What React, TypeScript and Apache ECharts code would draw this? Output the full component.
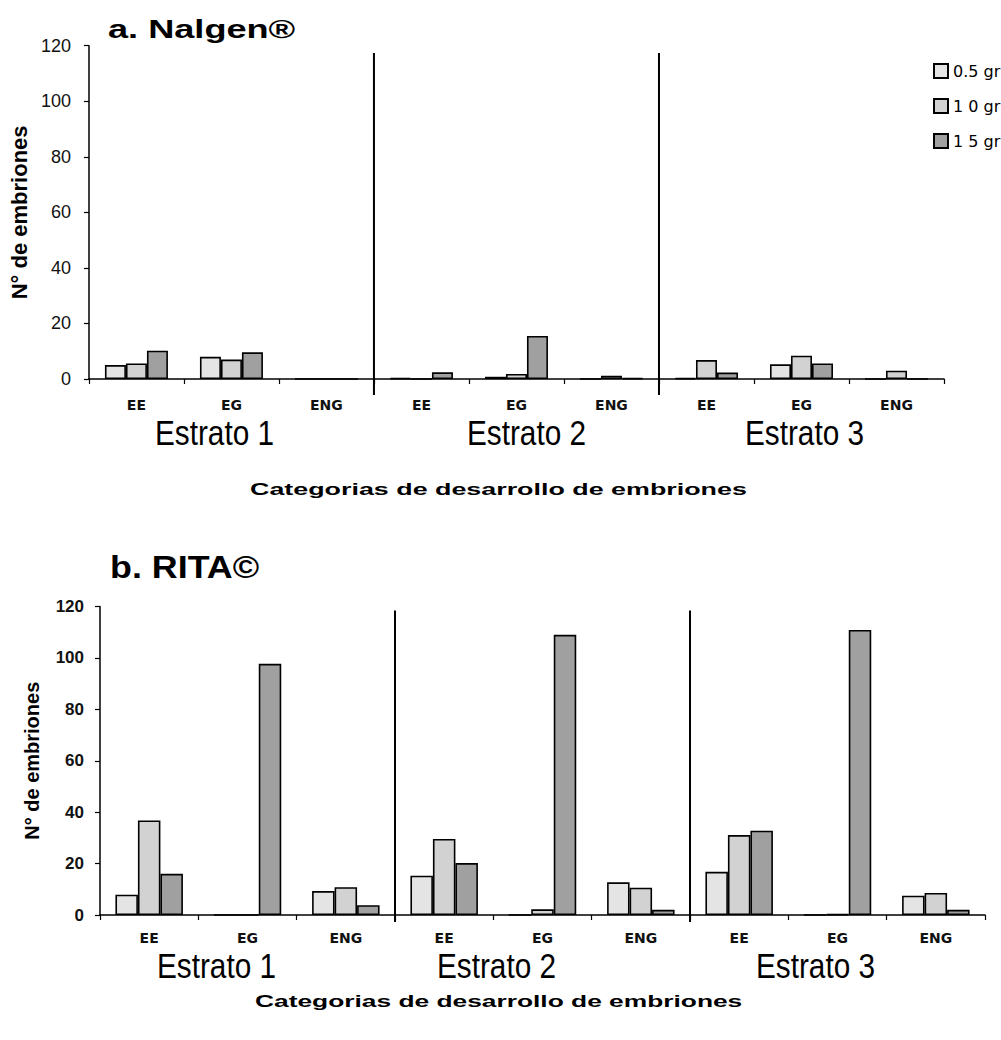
import React, { useEffect, useRef } from "react";
import * as echarts from "echarts";

// ---- data ----
const categories = ["EE", "EG", "ENG", "EE", "EG", "ENG", "EE", "EG", "ENG"];
const strata = ["Estrato 1", "Estrato 2", "Estrato 3"];
const seriesNames = ["0.5 gr", "1 0 gr", "1 5 gr"];
const titleA = "a. Nalgen®";
const titleB = "b. RITA©";
const xAxisTitle = "Categorias de desarrollo de embriones";
const yAxisTitle = "N° de embriones";

// a. Nalgen®
const nalgen05 = [5, 8, 0, 0.3, 0.8, 0, 0.3, 5.3, 0];
const nalgen10 = [5.6, 7, 0, 0, 1.8, 1.2, 6.8, 8.4, 3];
const nalgen15 = [10.2, 9.6, 0, 2.4, 15.5, 0.3, 2.3, 5.6, 0];

// b. RITA©
const rita05 = [7.9, 0, 9.3, 15.3, 0, 12.7, 16.8, 0, 7.5];
const rita10 = [36.8, 0, 10.8, 29.6, 2.2, 10.6, 31.1, 0.3, 8.6];
const rita15 = [16, 97.7, 3.8, 20.2, 109, 2, 32.8, 110.9, 2];

// stratum boundaries (in category units)
const dividerPositions = [3, 6];

// ---- style ----
const FILLS = ["#e4e4e4", "#d2d2d2", "#a0a0a0"];
const FONT = "'Liberation Sans', Arial, sans-serif";

export default function App() {
  const ref = useRef<HTMLDivElement>(null);

  useEffect(() => {
    document.body.style.margin = "0";
    if (!ref.current) return;
    const chart = echarts.init(ref.current, null, { renderer: "svg" });

    const barSeries = (
      name: string,
      data: number[],
      fill: string,
      xAxisIndex: number,
      yAxisIndex: number,
      barWidth: number
    ) => ({
      name,
      type: "bar",
      data,
      xAxisIndex,
      yAxisIndex,
      barWidth,
      barGap: "0%",
      itemStyle: { color: fill, borderColor: "#000", borderWidth: 1.6 },
    });

    const dividerSeries = (
      xAxisIndex: number,
      yAxisIndex: number,
      yTop: number,
      yBottom: number
    ) => ({
      type: "custom",
      name: "divider",
      xAxisIndex,
      yAxisIndex,
      clip: false,
      silent: true,
      data: dividerPositions.map((v) => [v, 0]),
      encode: { x: 0, y: 1 },
      renderItem: (params: any, api: any) => {
        const p1 = api.coord([api.value(0), yTop]);
        const p2 = api.coord([api.value(0), yBottom]);
        return {
          type: "line",
          shape: { x1: p1[0], y1: p1[1], x2: p2[0], y2: p2[1] },
          style: { stroke: "#000", lineWidth: 2 },
        };
      },
    });

    const catAxis = (gridIndex: number, margin: number) => ({
      type: "category",
      gridIndex,
      data: categories,
      boundaryGap: true,
      axisLine: { lineStyle: { color: "#000", width: 1.5 } },
      axisTick: { show: true, length: 5, lineStyle: { color: "#000", width: 1.2 } },
      axisLabel: {
        color: "#111",
        fontFamily: "'DejaVu Sans', sans-serif",
        fontWeight: "bold",
        fontSize: 14,
        margin,
        interval: 0,
      },
    });

    const hiddenValueX = (gridIndex: number) => ({
      type: "value",
      gridIndex,
      min: 0,
      max: 9,
      show: false,
    });

    const valAxis = (
      gridIndex: number,
      fontSize: number,
      fontWeight: string,
      margin: number,
      nameGap: number,
      nameSize: number
    ) => ({
      type: "value",
      gridIndex,
      min: 0,
      max: 120,
      interval: 20,
      name: yAxisTitle,
      nameLocation: "middle",
      nameGap,
      nameTextStyle: {
        fontFamily: FONT,
        fontWeight: "bold",
        fontSize: nameSize,
        color: "#000",
      },
      axisLine: { show: true, lineStyle: { color: "#000", width: 1.5 } },
      axisTick: { show: true, length: 5, lineStyle: { color: "#000", width: 1.2 } },
      splitLine: { show: false },
      axisLabel: {
        color: "#111",
        fontFamily: FONT,
        fontSize,
        fontWeight,
        margin,
      },
    });

    const text = (
      str: string,
      x: number,
      y: number,
      fontSize: number,
      fontWeight: string,
      scaleX: number
    ) => ({
      type: "text",
      x,
      y,
      scaleX,
      silent: true,
      style: {
        text: str,
        fontFamily: FONT,
        fontSize,
        fontWeight,
        fill: "#000",
        align: "left",
        verticalAlign: "middle",
        textAlign: "left",
        textVerticalAlign: "middle",
      },
    });

    const strataTopX = [155, 467, 745];
    const strataBottomX = [157, 437, 756];

    const option: any = {
      animation: false,
      backgroundColor: "#fff",
      grid: [
        { left: 88, right: 57, top: 45.7, height: 333.3, containLabel: false },
        { left: 100, right: 16, top: 606.5, height: 308.5, containLabel: false },
      ],
      xAxis: [catAxis(0, 19), hiddenValueX(0), catAxis(1, 16), hiddenValueX(1)],
      yAxis: [
        valAxis(0, 18, "normal", 18, 52, 22),
        valAxis(1, 17, "bold", 16, 58, 20),
      ],
      legend: {
        data: seriesNames,
        orient: "vertical",
        left: 928,
        top: 58,
        itemWidth: 14,
        itemHeight: 14,
        itemGap: 19,
        icon: "rect",
        textStyle: {
          fontFamily: "'DejaVu Sans', sans-serif",
          fontSize: 16,
          color: "#000",
        },
      },
      graphic: [
        text(titleA, 108, 29, 26, "bold", 1.39),
        text(titleB, 110, 567, 32, "bold", 1.12),
        ...strata.map((s, i) => text(s, strataTopX[i], 433, 35, "normal", 0.85)),
        ...strata.map((s, i) => text(s, strataBottomX[i], 966, 35, "normal", 0.85)),
        text(xAxisTitle, 250, 489, 17, "bold", 1.58),
        text(xAxisTitle, 255, 1001, 17, "bold", 1.55),
      ],
      series: [
        barSeries(seriesNames[0], nalgen05, FILLS[0], 0, 0, 21),
        barSeries(seriesNames[1], nalgen10, FILLS[1], 0, 0, 21),
        barSeries(seriesNames[2], nalgen15, FILLS[2], 0, 0, 21),
        dividerSeries(1, 0, 117.4, -5.8),
        barSeries(seriesNames[0], rita05, FILLS[0], 2, 1, 22.5),
        barSeries(seriesNames[1], rita10, FILLS[1], 2, 1, 22.5),
        barSeries(seriesNames[2], rita15, FILLS[2], 2, 1, 22.5),
        dividerSeries(3, 1, 118.4, -2.7),
      ],
    };

    chart.setOption(option);
    return () => chart.dispose();
  }, []);

  return <div ref={ref} style={{ width: 1001, height: 1040 }} />;
}
